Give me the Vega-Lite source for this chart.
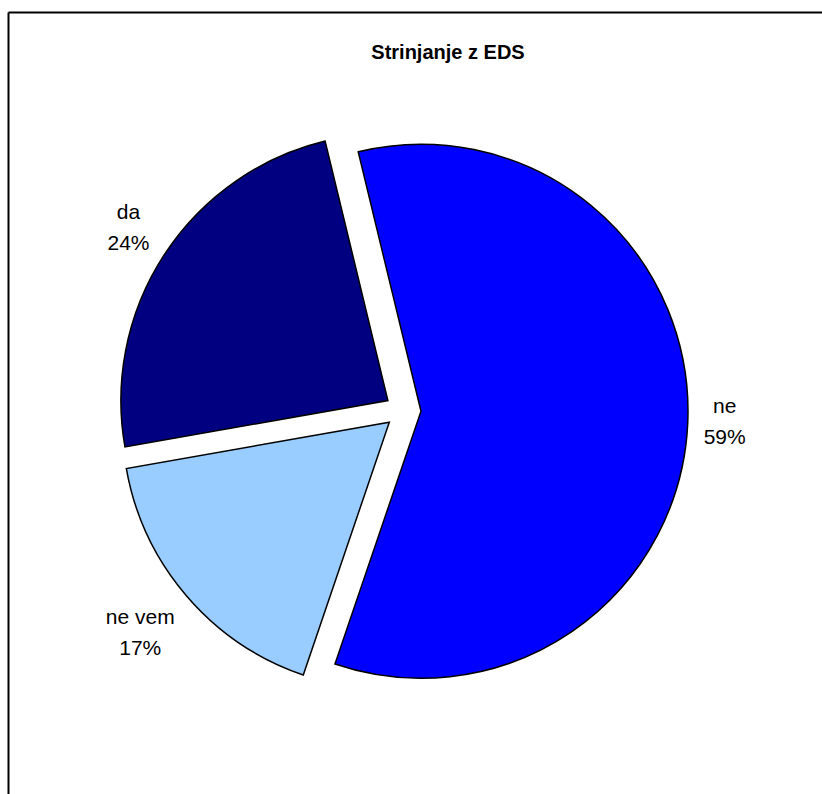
{
  "$schema": "https://vega.github.io/schema/vega-lite/v6.json",
  "width": 822,
  "height": 794,
  "autosize": {"type": "fit", "contains": "padding"},
  "padding": {"left": 5, "top": 9, "right": 0, "bottom": 0},
  "background": "white",
  "view": {"stroke": null},
  "title": {
    "text": "Strinjanje z EDS",
    "font": "Liberation Sans",
    "fontSize": 20,
    "fontWeight": "bold",
    "color": "black",
    "frame": "group",
    "anchor": "middle",
    "offset": -54,
    "dx": 33
  },
  "data": {
    "values": [
      {"cat": "ne", "value": 59, "ord": 1},
      {"cat": "ne vem", "value": 17, "ord": 2},
      {"cat": "da", "value": 24, "ord": 3}
    ]
  },
  "transform": [
    {"stack": "value", "groupby": [], "sort": [{"field": "ord", "order": "ascending"}], "as": ["v0", "v1"]},
    {"calculate": "(datum.v0 + datum.v1) / 2", "as": "mid"},
    {"calculate": "[datum.cat, datum.value + '%']", "as": "lines"}
  ],
  "layer": [
    {
      "mark": {"type": "point", "opacity": 0},
      "encoding": {
        "x": {"datum": 0, "type": "quantitative", "scale": {"domain": [0, 1]}, "axis": {"orient": "top", "domainColor": "black", "domainWidth": 2, "ticks": false, "labels": false, "title": null, "grid": false}},
        "y": {"datum": 1, "type": "quantitative", "scale": {"domain": [0, 1]}, "axis": {"orient": "left", "domainColor": "black", "domainWidth": 2, "ticks": false, "labels": false, "title": null, "grid": false}}
      }
    },
    {
      "transform": [{"filter": "datum.cat === 'ne'"}],
      "encoding": {
        "theta": {"field": "v0", "type": "quantitative", "scale": {"domain": [0, 100], "range": [-0.2374, 6.0458]}},
        "color": {"field": "cat", "type": "nominal", "scale": {"domain": ["ne", "ne vem", "da"], "range": ["#0000FF", "#99CCFF", "#000080"]}, "legend": null}
      },
      "layer": [
        {"mark": {"type": "arc", "outerRadius": 267, "stroke": "black", "strokeWidth": 1.5, "xOffset": 6, "yOffset": 8.3}, "encoding": {"theta2": {"field": "v1"}}},
        {"mark": {"type": "text", "radius": 304, "xOffset": 6, "yOffset": 8.3, "dy": -18, "font": "Liberation Sans", "fontSize": 21, "lineHeight": 31, "align": "center", "baseline": "middle"}, "encoding": {"theta": {"field": "mid", "type": "quantitative"}, "text": {"field": "lines"}, "color": {"value": "black"}}}
      ]
    },
    {
      "transform": [{"filter": "datum.cat === 'ne vem'"}],
      "encoding": {
        "theta": {"field": "v0", "type": "quantitative", "scale": {"domain": [0, 100], "range": [-0.2374, 6.0458]}},
        "color": {"field": "cat", "type": "nominal", "scale": {"domain": ["ne", "ne vem", "da"], "range": ["#0000FF", "#99CCFF", "#000080"]}, "legend": null}
      },
      "layer": [
        {"mark": {"type": "arc", "outerRadius": 267, "stroke": "black", "strokeWidth": 1.5, "xOffset": -25.7, "yOffset": 19.2}, "encoding": {"theta2": {"field": "v1"}}},
        {"mark": {"type": "text", "radius": 328, "xOffset": -25.7, "yOffset": 19.2, "dy": -18, "font": "Liberation Sans", "fontSize": 21, "lineHeight": 31, "align": "center", "baseline": "middle"}, "encoding": {"theta": {"field": "mid", "type": "quantitative"}, "text": {"field": "lines"}, "color": {"value": "black"}}}
      ]
    },
    {
      "transform": [{"filter": "datum.cat === 'da'"}],
      "encoding": {
        "theta": {"field": "v0", "type": "quantitative", "scale": {"domain": [0, 100], "range": [-0.2374, 6.0458]}},
        "color": {"field": "cat", "type": "nominal", "scale": {"domain": ["ne", "ne vem", "da"], "range": ["#0000FF", "#99CCFF", "#000080"]}, "legend": null}
      },
      "layer": [
        {"mark": {"type": "arc", "outerRadius": 267, "stroke": "black", "strokeWidth": 1.5, "xOffset": -27.1, "yOffset": -2.4}, "encoding": {"theta2": {"field": "v1"}}},
        {"mark": {"type": "text", "radius": 310, "xOffset": -27.1, "yOffset": -2.4, "dy": -18, "font": "Liberation Sans", "fontSize": 21, "lineHeight": 31, "align": "center", "baseline": "middle"}, "encoding": {"theta": {"field": "mid", "type": "quantitative"}, "text": {"field": "lines"}, "color": {"value": "black"}}}
      ]
    }
  ]
}
